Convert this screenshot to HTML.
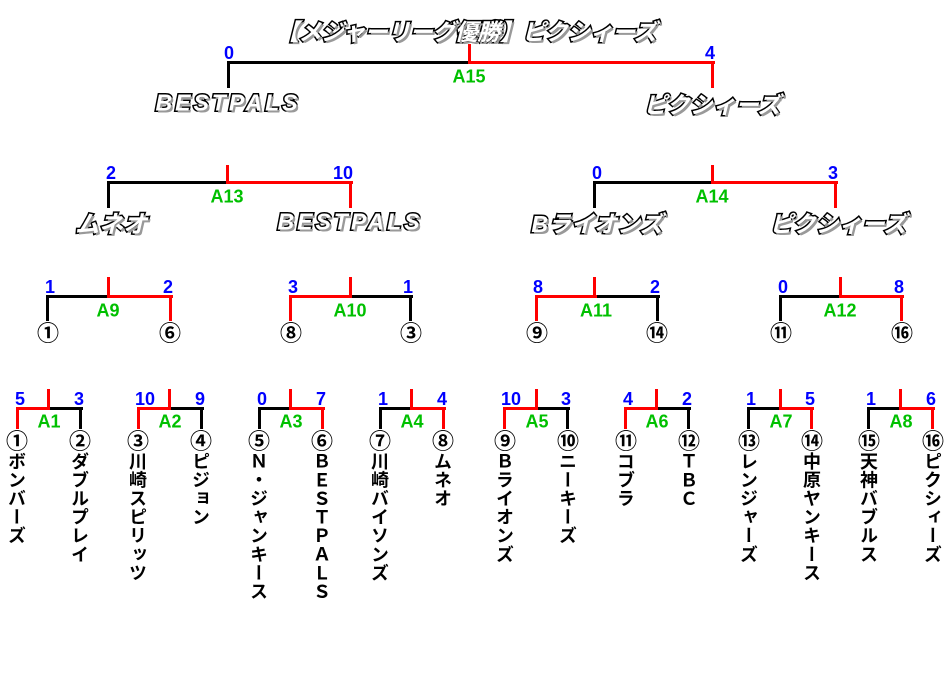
<!DOCTYPE html>
<html><head><meta charset="utf-8">
<style>
html,body{margin:0;padding:0;background:#fff;}
body{width:952px;height:685px;position:relative;overflow:hidden;font-family:"Liberation Sans","Noto Sans CJK JP",sans-serif;}
.k,.r{position:absolute;background:#000;}
.r{background:#f00;}
.sl,.sr{position:absolute;font:bold 18px/17px "Liberation Sans",sans-serif;color:#0000ff;white-space:nowrap;}
.sr{transform:translateX(-100%);}
.a{position:absolute;font:bold 18px/17px "Liberation Sans",sans-serif;color:#00c000;transform:translate(-50%,-50%);white-space:nowrap;}
.c{position:absolute;font:bold 22px/22px "Noto Sans CJK JP",sans-serif;color:#000;transform:translate(-50%,-50%);white-space:nowrap;}
.v{position:absolute;width:20px;writing-mode:vertical-rl;text-orientation:upright;font:bold 18px/20px "Noto Sans CJK JP",sans-serif;letter-spacing:0.6px;color:#000;top:452px;}
.o{position:absolute;transform:translate(-50%,-50%);white-space:nowrap;font-family:"Liberation Sans","Noto Sans CJK JP",sans-serif;font-weight:bold;font-style:italic;color:#fff;-webkit-text-stroke:3px #000;paint-order:stroke fill;text-shadow:2px 2px 0 #999;}
</style></head><body>

<!-- Final -->
<div class="o" style="left:466px;top:30px;font-size:23px;letter-spacing:-0.5px;">【メジャーリーグ優勝】ピクシィーズ</div>
<div class="k" style="left:227px;top:61px;width:488px;height:3px"></div>
<div class="r" style="left:468px;top:61px;width:247px;height:3px"></div>
<div class="r" style="left:468px;top:44px;width:3px;height:20px"></div>
<div class="k" style="left:227px;top:61px;width:3px;height:27px"></div>
<div class="r" style="left:711px;top:61px;width:3px;height:27px"></div>
<div class="sl" style="left:224px;top:45px">0</div>
<div class="sr" style="left:715px;top:45px">4</div>
<div class="a" style="left:469px;top:77px">A15</div>
<div class="o" style="left:228px;top:103px;font-size:23px;letter-spacing:3px;">BESTPALS</div>
<div class="o" style="left:712px;top:103px;font-size:23px;">ピクシィーズ</div>

<!-- A13 -->
<div class="k" style="left:107px;top:181px;width:246px;height:3px"></div>
<div class="r" style="left:226px;top:181px;width:127px;height:3px"></div>
<div class="r" style="left:226px;top:165px;width:3px;height:19px"></div>
<div class="k" style="left:107px;top:181px;width:3px;height:27px"></div>
<div class="r" style="left:349px;top:181px;width:3px;height:27px"></div>
<div class="sl" style="left:106px;top:165px">2</div>
<div class="sr" style="left:353px;top:165px">10</div>
<div class="a" style="left:227px;top:197px">A13</div>
<div class="o" style="left:111px;top:222px;font-size:24px;">ムネオ</div>
<div class="o" style="left:350px;top:222px;font-size:23px;letter-spacing:3px;">BESTPALS</div>

<!-- A14 -->
<div class="k" style="left:593px;top:181px;width:245px;height:3px"></div>
<div class="r" style="left:711px;top:181px;width:127px;height:3px"></div>
<div class="r" style="left:711px;top:165px;width:3px;height:19px"></div>
<div class="k" style="left:593px;top:181px;width:3px;height:27px"></div>
<div class="r" style="left:834px;top:181px;width:3px;height:27px"></div>
<div class="sl" style="left:592px;top:165px">0</div>
<div class="sr" style="left:838px;top:165px">3</div>
<div class="a" style="left:712px;top:197px">A14</div>
<div class="o" style="left:597px;top:222px;font-size:23px;">Bライオンズ</div>
<div class="o" style="left:838px;top:222px;font-size:23px;">ピクシィーズ</div>

<!-- A9 (R) -->
<div class="k" style="left:46px;top:295px;width:127px;height:3px"></div>
<div class="r" style="left:107px;top:295px;width:66px;height:3px"></div>
<div class="r" style="left:107px;top:277px;width:3px;height:21px"></div>
<div class="k" style="left:46px;top:295px;width:3px;height:26px"></div>
<div class="r" style="left:169px;top:295px;width:3px;height:26px"></div>
<div class="sl" style="left:45px;top:279px">1</div>
<div class="sr" style="left:173px;top:279px">2</div>
<div class="a" style="left:108px;top:311px">A9</div>
<div class="c" style="left:48px;top:332px">①</div>
<div class="c" style="left:170px;top:332px">⑥</div>

<!-- A10 (L) -->
<div class="k" style="left:289px;top:295px;width:124px;height:3px"></div>
<div class="r" style="left:289px;top:295px;width:63px;height:3px"></div>
<div class="r" style="left:349px;top:277px;width:3px;height:21px"></div>
<div class="r" style="left:289px;top:295px;width:3px;height:26px"></div>
<div class="k" style="left:409px;top:295px;width:3px;height:26px"></div>
<div class="sl" style="left:288px;top:279px">3</div>
<div class="sr" style="left:413px;top:279px">1</div>
<div class="a" style="left:350px;top:311px">A10</div>
<div class="c" style="left:291px;top:332px">⑧</div>
<div class="c" style="left:411px;top:332px">③</div>

<!-- A11 (L) -->
<div class="k" style="left:535px;top:295px;width:125px;height:3px"></div>
<div class="r" style="left:535px;top:295px;width:62px;height:3px"></div>
<div class="r" style="left:593px;top:277px;width:3px;height:21px"></div>
<div class="r" style="left:535px;top:295px;width:3px;height:26px"></div>
<div class="k" style="left:656px;top:295px;width:3px;height:26px"></div>
<div class="sl" style="left:533px;top:279px">8</div>
<div class="sr" style="left:660px;top:279px">2</div>
<div class="a" style="left:596px;top:311px">A11</div>
<div class="c" style="left:537px;top:332px">⑨</div>
<div class="c" style="left:657px;top:332px">⑭</div>

<!-- A12 (R) -->
<div class="k" style="left:779px;top:295px;width:125px;height:3px"></div>
<div class="r" style="left:839px;top:295px;width:65px;height:3px"></div>
<div class="r" style="left:839px;top:277px;width:3px;height:21px"></div>
<div class="k" style="left:779px;top:295px;width:3px;height:26px"></div>
<div class="r" style="left:900px;top:295px;width:3px;height:26px"></div>
<div class="sl" style="left:778px;top:279px">0</div>
<div class="sr" style="left:904px;top:279px">8</div>
<div class="a" style="left:840px;top:311px">A12</div>
<div class="c" style="left:781px;top:332px">⑪</div>
<div class="c" style="left:902px;top:332px">⑯</div>

<!-- Round 1 -->
<div class="k" style="left:16px;top:407px;width:67px;height:3px"></div>
<div class="r" style="left:16px;top:407px;width:34px;height:3px"></div>
<div class="r" style="left:47px;top:389px;width:3px;height:21px"></div>
<div class="r" style="left:16px;top:407px;width:3px;height:22px"></div>
<div class="k" style="left:79px;top:407px;width:3px;height:22px"></div>
<div class="sl" style="left:15px;top:391px">5</div>
<div class="sr" style="left:84px;top:391px">3</div>
<div class="a" style="left:49px;top:422px">A1</div>
<div class="c" style="left:17px;top:440px">①</div>
<div class="c" style="left:80px;top:440px">②</div>
<div class="v" style="left:7px">ボンバーズ</div>
<div class="v" style="left:70px">ダブルプレイ</div>

<div class="k" style="left:137px;top:407px;width:67px;height:3px"></div>
<div class="r" style="left:137px;top:407px;width:34px;height:3px"></div>
<div class="r" style="left:168px;top:389px;width:3px;height:21px"></div>
<div class="r" style="left:137px;top:407px;width:3px;height:22px"></div>
<div class="k" style="left:200px;top:407px;width:3px;height:22px"></div>
<div class="sl" style="left:135px;top:391px">10</div>
<div class="sr" style="left:205px;top:391px">9</div>
<div class="a" style="left:170px;top:422px">A2</div>
<div class="c" style="left:138px;top:440px">③</div>
<div class="c" style="left:201px;top:440px">④</div>
<div class="v" style="left:128px">川崎スピリッツ</div>
<div class="v" style="left:191px">ピジョン</div>

<div class="k" style="left:258px;top:407px;width:67px;height:3px"></div>
<div class="r" style="left:289px;top:407px;width:36px;height:3px"></div>
<div class="r" style="left:289px;top:389px;width:3px;height:21px"></div>
<div class="k" style="left:258px;top:407px;width:3px;height:22px"></div>
<div class="r" style="left:321px;top:407px;width:3px;height:22px"></div>
<div class="sl" style="left:257px;top:391px">0</div>
<div class="sr" style="left:326px;top:391px">7</div>
<div class="a" style="left:291px;top:422px">A3</div>
<div class="c" style="left:259px;top:440px">⑤</div>
<div class="c" style="left:322px;top:440px">⑥</div>
<div class="v" style="left:249px">Ｎ・ジャンキース</div>
<div class="v" style="left:312px">ＢＥＳＴＰＡＬＳ</div>

<div class="k" style="left:379px;top:407px;width:67px;height:3px"></div>
<div class="r" style="left:410px;top:407px;width:36px;height:3px"></div>
<div class="r" style="left:410px;top:389px;width:3px;height:21px"></div>
<div class="k" style="left:379px;top:407px;width:3px;height:22px"></div>
<div class="r" style="left:442px;top:407px;width:3px;height:22px"></div>
<div class="sl" style="left:378px;top:391px">1</div>
<div class="sr" style="left:447px;top:391px">4</div>
<div class="a" style="left:412px;top:422px">A4</div>
<div class="c" style="left:380px;top:440px">⑦</div>
<div class="c" style="left:443px;top:440px">⑧</div>
<div class="v" style="left:370px">川崎バイソンズ</div>
<div class="v" style="left:433px">ムネオ</div>

<div class="k" style="left:503px;top:407px;width:67px;height:3px"></div>
<div class="r" style="left:503px;top:407px;width:35px;height:3px"></div>
<div class="r" style="left:535px;top:389px;width:3px;height:21px"></div>
<div class="r" style="left:503px;top:407px;width:3px;height:22px"></div>
<div class="k" style="left:566px;top:407px;width:3px;height:22px"></div>
<div class="sl" style="left:501px;top:391px">10</div>
<div class="sr" style="left:571px;top:391px">3</div>
<div class="a" style="left:537px;top:422px">A5</div>
<div class="c" style="left:505px;top:440px">⑨</div>
<div class="c" style="left:568px;top:440px">⑩</div>
<div class="v" style="left:495px">Ｂライオンズ</div>
<div class="v" style="left:558px">ニーキーズ</div>

<div class="k" style="left:624px;top:407px;width:67px;height:3px"></div>
<div class="r" style="left:624px;top:407px;width:34px;height:3px"></div>
<div class="r" style="left:655px;top:389px;width:3px;height:21px"></div>
<div class="r" style="left:624px;top:407px;width:3px;height:22px"></div>
<div class="k" style="left:687px;top:407px;width:3px;height:22px"></div>
<div class="sl" style="left:623px;top:391px">4</div>
<div class="sr" style="left:692px;top:391px">2</div>
<div class="a" style="left:657px;top:422px">A6</div>
<div class="c" style="left:626px;top:440px">⑪</div>
<div class="c" style="left:689px;top:440px">⑫</div>
<div class="v" style="left:616px">コブラ</div>
<div class="v" style="left:679px">ＴＢＣ</div>

<div class="k" style="left:747px;top:407px;width:67px;height:3px"></div>
<div class="r" style="left:779px;top:407px;width:35px;height:3px"></div>
<div class="r" style="left:779px;top:389px;width:3px;height:21px"></div>
<div class="k" style="left:747px;top:407px;width:3px;height:22px"></div>
<div class="r" style="left:810px;top:407px;width:3px;height:22px"></div>
<div class="sl" style="left:746px;top:391px">1</div>
<div class="sr" style="left:815px;top:391px">5</div>
<div class="a" style="left:781px;top:422px">A7</div>
<div class="c" style="left:749px;top:440px">⑬</div>
<div class="c" style="left:812px;top:440px">⑭</div>
<div class="v" style="left:739px">レンジャーズ</div>
<div class="v" style="left:802px">中原ヤンキース</div>

<div class="k" style="left:867px;top:407px;width:68px;height:3px"></div>
<div class="r" style="left:899px;top:407px;width:36px;height:3px"></div>
<div class="r" style="left:899px;top:389px;width:3px;height:21px"></div>
<div class="k" style="left:867px;top:407px;width:3px;height:22px"></div>
<div class="r" style="left:931px;top:407px;width:3px;height:22px"></div>
<div class="sl" style="left:866px;top:391px">1</div>
<div class="sr" style="left:936px;top:391px">6</div>
<div class="a" style="left:901px;top:422px">A8</div>
<div class="c" style="left:869px;top:440px">⑮</div>
<div class="c" style="left:933px;top:440px">⑯</div>
<div class="v" style="left:859px">天神バブルス</div>
<div class="v" style="left:923px">ピクシィーズ</div>

</body></html>
